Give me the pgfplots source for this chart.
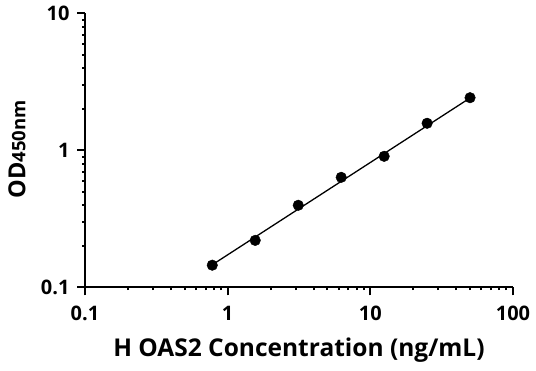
\documentclass[border=0pt]{standalone}
\usepackage{fontspec}
\setmainfont{Open Sans}
\usepackage{pgfplots}
\pgfplotsset{compat=1.18}
\begin{document}
\begin{tikzpicture}[x=1pt,y=1pt]
\useasboundingbox (-85,-83.7) rectangle (451,287.3);
\begin{axis}[
  at={(0,0)}, anchor=south west,
  width=428pt, height=274pt, scale only axis,
  xmode=log, ymode=log,
  xmin=0.1, xmax=100, ymin=0.1, ymax=10,
  axis lines=left, axis line style={-, line width=2.2pt},
  xtick={0.1,1,10,100}, xticklabels={0.1,1,10,100},
  ytick={0.1,1,10}, yticklabels={0.1,1,10},
  minor xtick={}, minor ytick={},
  tick align=outside, major tick length=8pt,
  tick style={line width=2pt, black},
  ticklabel style={font=\fontsize{20}{20}\selectfont\bfseries},
  xticklabel style={yshift=-7pt},
  yticklabel style={xshift=-4pt},
  xlabel={H OAS2 Concentration (ng/mL)},
  ylabel={OD{\fontsize{18.5}{18.5}\selectfont 450nm}},
  xlabel style={font=\fontsize{24.5}{24.5}\selectfont\bfseries, at={(axis description cs:0.5,-0.231)}, anchor=center},
  ylabel style={font=\fontsize{23.5}{23.5}\selectfont\bfseries, at={(axis description cs:-0.159,0.503)}, anchor=center, rotate=0},
  clip=false,
]
\addplot[black, line width=1.3pt] coordinates {(0.78,0.146) (50,2.41)};
\addplot[only marks, mark=*, mark size=5.3pt, black] coordinates {
(0.78,0.145) (1.56,0.220) (3.125,0.397) (6.25,0.635) (12.5,0.904) (25,1.575) (50,2.42)};
\end{axis}
\end{tikzpicture}
\end{document}
